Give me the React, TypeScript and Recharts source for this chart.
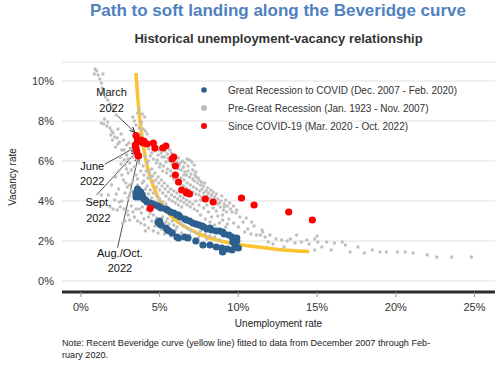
import React from "react";
import {
  CartesianGrid,
  ComposedChart,
  Legend,
  Line,
  ReferenceDot,
  ReferenceLine,
  Scatter,
  XAxis,
  YAxis,
} from "recharts";

const FONT = '"Liberation Sans", Arial, Helvetica, sans-serif';

// [unemployment rate, vacancy rate]
const preGreatRecession: [number, number][] = [
  // WWII streak
  [0.9, 10.6], [1.0, 10.5], [0.85, 10.35], [1.1, 10.3], [1.4, 10.35], [1.2, 10.1], [1.3, 9.9],
  [1.35, 9.65], [1.4, 9.4], [1.55, 9.2], [1.7, 9.05], [1.85, 8.85], [2.0, 8.65], [2.1, 8.5],
  [2.25, 8.3], [1.5, 8.1], [1.3, 7.9], [1.45, 7.85], [1.7, 7.95], [1.65, 7.75], [1.85, 7.65],
  [1.95, 7.5], [2.05, 7.4], [1.9, 7.3], [2.15, 7.2], [2.3, 7.15], [2.0, 7.05], [2.45, 6.95],
  [2.35, 6.85], [2.2, 6.7], [2.35, 7.6], [2.55, 7.35], [2.7, 7.05], [2.9, 6.8], [3.05, 6.9],
  [2.75, 6.55],
  // near top of curve
  [3.3, 8.2], [3.4, 8.0], [3.5, 7.8], [3.7, 7.65], [3.85, 7.95], [3.95, 7.6], [4.1, 7.5],
  [4.2, 7.35], [3.75, 7.3], [4.05, 8.2], [3.9, 8.35], [3.7, 8.6], [3.6, 8.4],
  // left of the 2022 cluster
  [2.6, 6.55], [2.9, 6.3], [3.0, 6.1], [2.8, 5.8], [2.4, 5.5], [3.0, 5.4], [3.2, 5.55],
  [3.4, 5.7], [2.7, 5.05], [3.3, 5.0], [3.6, 4.8], [1.95, 4.8], [1.75, 4.3], [2.15, 4.05],
  [2.6, 4.0], [3.0, 4.15], [3.85, 4.3], [1.3, 4.3], [3.0, 3.3], [2.8, 3.0], [3.4, 3.2],
  [3.85, 3.4], [4.05, 2.8], [2.5, 3.7], [2.65, 2.9], [3.1, 3.05], [1.85, 3.7], [2.05, 3.6],
  [2.3, 3.55], [3.2, 6.6], [3.1, 5.9], [3.3, 6.2], [2.5, 6.2], [2.9, 5.6], [3.5, 5.3],
  [3.6, 5.1], [3.45, 4.6], [3.2, 4.5], [2.95, 4.7], [2.2, 5.2], [3.95, 5.75], [4.15, 5.5],
  [4.25, 5.15], [3.7, 5.9], [3.55, 6.1], [3.75, 6.3], [2.75, 6.05], [2.55, 5.85], [2.6, 5.3],
  [2.85, 4.9], [3.1, 4.8], [3.35, 4.35], [3.1, 4.3], [2.8, 4.4], [2.4, 4.6], [2.25, 4.35],
  [2.45, 3.95], [2.75, 3.6], [3.2, 3.75], [3.5, 3.6], [3.3, 3.45], [2.95, 3.5], [3.6, 3.0],
  [3.8, 2.9],
  // main cloud
  [4.3, 6.6], [4.5, 6.4], [4.7, 6.5], [4.9, 6.3], [5.1, 6.4], [5.3, 6.2], [5.5, 6.35],
  [5.65, 6.55], [5.75, 6.4], [5.4, 5.95], [5.6, 6.0], [5.8, 5.85], [6.0, 5.75], [6.1, 5.95],
  [6.3, 5.9], [6.2, 5.6], [6.4, 5.55], [6.5, 5.7], [6.6, 5.45], [6.7, 5.3], [6.8, 5.5],
  [6.9, 5.2], [7.0, 5.35], [7.1, 5.1], [7.2, 5.0], [7.3, 5.2], [7.4, 4.9], [7.5, 5.05],
  [7.6, 4.8], [7.7, 4.6], [7.8, 4.75], [7.95, 4.5], [8.1, 4.4], [8.3, 4.3], [8.5, 4.2],
  [8.7, 4.1], [8.9, 4.0], [9.1, 3.85], [9.3, 3.75], [9.5, 3.6], [6.6, 5.9], [6.8, 5.75],
  [7.1, 5.55], [7.3, 5.45], [6.9, 6.05], [7.2, 5.8], [5.9, 6.3], [6.2, 6.15], [4.8, 5.9],
  [5.0, 5.7], [5.2, 5.5], [5.45, 5.4], [5.7, 5.25], [5.9, 5.1], [6.1, 5.0], [6.3, 4.85],
  [6.5, 4.75], [6.7, 4.65], [6.9, 4.55], [7.1, 4.45], [7.3, 4.35], [7.5, 4.3], [7.7, 4.2],
  [7.9, 4.1], [4.5, 5.6], [4.7, 5.4], [4.9, 5.2], [5.1, 5.05], [5.3, 4.9], [5.5, 4.75],
  [5.7, 4.6], [5.9, 4.5], [6.1, 4.4], [6.3, 4.25], [6.5, 4.15], [6.7, 4.05], [6.9, 3.95],
  [7.1, 3.85], [4.2, 5.9], [4.4, 5.2], [4.6, 4.95], [4.8, 4.7], [5.0, 4.55], [5.2, 4.4],
  [5.4, 4.25], [5.6, 4.1], [5.8, 4.0], [6.0, 3.9], [6.2, 3.8], [6.4, 3.7], [4.0, 5.0],
  [4.2, 4.75], [4.4, 4.55], [4.6, 4.4], [4.8, 4.25], [5.0, 4.1], [5.2, 3.95], [5.4, 3.85],
  [3.8, 5.5], [4.0, 5.3], [4.1, 6.2], [4.3, 6.0], [4.4, 6.25], [4.6, 6.1], [4.85, 6.05],
  [5.05, 5.85], [5.25, 5.75], [5.5, 5.6], [5.7, 5.5], [5.95, 5.4], [6.15, 5.3], [6.35, 5.15],
  [6.55, 5.05], [6.75, 4.9], [6.95, 4.8], [7.15, 4.7], [7.35, 4.6], [7.55, 4.5], [7.8, 4.4],
  [8.0, 4.25], [8.2, 4.15], [8.45, 4.05], [8.65, 3.85], [8.85, 3.7], [9.05, 3.55],
  [9.25, 3.45], [5.35, 6.5], [5.55, 6.15], [5.15, 6.2], [4.95, 6.55], [6.45, 6.0], [6.75, 6.1],
  [7.05, 5.95], [6.25, 5.8], [6.55, 5.3], [7.25, 5.3], [7.45, 5.15], [7.65, 4.95], [7.85, 4.9],
  [8.05, 4.65], [8.25, 4.55], [8.4, 4.45], [8.6, 4.35], [8.95, 4.25], [9.2, 4.05], [9.45, 3.9],
  [9.7, 3.75], [9.85, 3.4], [4.35, 5.45], [4.55, 5.25], [4.75, 5.05], [4.95, 4.9], [5.15, 4.75],
  [5.35, 4.6], [5.55, 4.45], [5.75, 4.3], [5.95, 4.2], [6.15, 4.1], [6.35, 4.0], [6.55, 3.9],
  [6.75, 3.8], [6.95, 3.7], [7.2, 3.6], [7.4, 3.5], [3.9, 4.9], [4.1, 4.6], [4.3, 4.35],
  [4.5, 4.15], [4.7, 4.0], [4.9, 3.9],
  // around the 2008-2019 lanes
  [4.2, 3.55], [4.4, 3.4], [4.6, 3.3], [4.8, 3.15], [5.0, 3.05], [5.2, 3.2], [4.5, 3.0],
  [4.3, 3.2], [5.4, 2.95], [5.6, 2.85], [5.9, 2.8], [6.1, 2.7], [5.5, 3.1], [5.8, 3.0],
  [6.3, 2.9], [6.5, 2.75], [6.8, 2.6], [7.0, 2.5], [7.3, 2.4], [6.0, 2.55], [4.7, 2.75],
  [5.1, 2.6], [7.6, 2.5], [7.9, 2.35], [8.2, 2.25], [8.5, 2.2], [3.7, 3.6], [3.9, 3.7],
  [4.0, 3.1], [4.1, 2.5], [4.3, 2.65], [4.6, 2.5], [4.9, 2.4], [5.3, 2.35], [5.7, 2.25],
  [6.4, 2.4], [6.9, 2.3], [7.5, 2.2], [8.0, 2.1], [8.8, 2.05],
  // right of the cloud
  [7.7, 4.2], [8.0, 3.8], [8.4, 3.9], [8.8, 3.9], [9.1, 3.7], [9.6, 3.45], [9.9, 3.55],
  [10.1, 3.2], [10.3, 2.95], [10.5, 3.15], [10.85, 2.95], [11.5, 2.55], [11.4, 2.3],
  [8.6, 3.5], [9.0, 3.3], [9.4, 3.1], [9.7, 2.9], [10.0, 2.7], [8.3, 3.2], [8.8, 2.9],
  [9.2, 2.7], [10.6, 2.6], [11.0, 2.75], [7.6, 3.3], [7.9, 3.1], [8.2, 2.95], [8.5, 2.8],
  [8.1, 3.45], [7.8, 3.65], [7.5, 3.8], [7.3, 4.0], [7.6, 4.05], [8.4, 3.65], [8.7, 3.25],
  [9.0, 3.05], [9.3, 2.85], [10.4, 2.45], [10.8, 2.35], [11.7, 2.2], [12.0, 2.3],
  // Depression tail
  [11.15, 2.3], [11.55, 2.45], [11.9, 1.95], [12.4, 2.1], [12.75, 2.05], [13.1, 2.0],
  [13.3, 2.1], [13.6, 1.9], [14.0, 1.95], [14.35, 2.05], [14.85, 2.1], [15.05, 1.95],
  [15.3, 1.7], [15.6, 1.95], [15.9, 1.55], [16.1, 1.9], [14.85, 1.55], [16.6, 1.95],
  [16.8, 1.8], [17.1, 1.45], [17.6, 1.7], [18.0, 1.4], [18.5, 1.55], [19.0, 1.45],
  [19.4, 1.45], [20.1, 1.45], [20.6, 1.45], [21.1, 1.4], [22.0, 1.3], [22.6, 1.2],
  [23.55, 1.2], [24.8, 1.2], [14.5, 1.85], [15.0, 2.25], [13.7, 2.3], [12.2, 1.85],
  [12.9, 1.7],
];

const greatRecessionToCovid: [number, number][] = [
  // 2008-2009
  [5.0, 3.0], [4.9, 2.95], [5.0, 2.85], [5.1, 2.8], [5.4, 2.65], [5.5, 2.55], [5.6, 2.5],
  [5.8, 2.4], [6.1, 2.2], [6.2, 2.15], [6.6, 2.2], [6.8, 2.15], [7.3, 2.0], [7.75, 1.8],
  [8.2, 1.8], [8.6, 1.7], [8.95, 1.65], [9.0, 1.45], [9.3, 1.6], [9.6, 1.55], [9.65, 1.95],
  [9.8, 1.75], [10.0, 1.65], [9.9, 2.15],
  // 2010-2019
  [9.9, 2.0], [9.7, 2.1], [9.6, 2.2], [9.4, 2.3], [9.1, 2.35], [9.0, 2.45], [8.8, 2.5],
  [8.6, 2.5], [8.3, 2.55], [8.2, 2.65], [8.0, 2.6], [7.8, 2.7], [7.7, 2.75], [7.5, 2.8],
  [7.3, 2.85], [7.1, 2.9], [6.9, 3.0], [6.7, 3.05], [6.6, 3.1], [6.3, 3.2], [6.2, 3.3],
  [6.1, 3.3], [5.9, 3.4], [5.7, 3.45], [5.5, 3.55], [5.4, 3.6], [5.1, 3.65], [5.0, 3.7],
  [4.9, 3.75], [4.7, 3.8], [4.5, 3.85], [4.4, 3.9], [4.2, 3.95], [4.1, 4.05], [4.0, 4.1],
  [3.9, 4.3], [3.8, 4.35], [3.7, 4.5], [3.6, 4.55], [3.5, 4.4], [3.6, 4.4], [3.5, 4.2],
  [3.7, 4.2], [3.8, 4.45], [3.6, 4.6],
];

const sinceCovid: [number, number][] = [
  [4.4, 3.63], [14.7, 3.05], [13.2, 3.45], [11.0, 3.8], [10.2, 4.15], [8.4, 3.95],
  [7.9, 4.1], [6.9, 4.35], [6.7, 4.4], [6.7, 4.45], [6.4, 4.55], [6.2, 4.95], [6.0, 5.3],
  [6.0, 5.75], [5.8, 6.1], [5.9, 6.2], [5.4, 6.75], [5.2, 6.65], [4.7, 6.65], [4.6, 6.9],
  [4.2, 6.85], [3.95, 6.9], [4.0, 7.0], [3.8, 7.05], [3.5, 7.27], [3.6, 7.05], [3.6, 6.95],
  [3.45, 6.8], [3.5, 6.65], [3.65, 6.25], [3.55, 6.47], [3.65, 6.27],
];

// fitted Beveridge curve
const curveU = [3.5, 3.6, 3.75, 3.9, 4.1, 4.4, 4.8, 5.3, 6, 7, 8, 9.5, 11, 12.5, 14.5];
const curveV = [10.4, 9.3, 8.0, 7.1, 6.15, 5.2, 4.35, 3.65, 3.05, 2.55, 2.2, 1.9, 1.72, 1.58, 1.47];

const xTicks = [0, 5, 10, 15, 20, 25];
const yTicks = [0, 2, 4, 6, 8, 10];

const legendItems = [
  { label: "Great Recession to COVID (Dec. 2007 - Feb. 2020)", color: "#2d5f8f", r: 2.8 },
  { label: "Pre-Great Recession (Jan. 1923 - Nov. 2007)", color: "#bdbdbd", r: 3 },
  { label: "Since COVID-19 (Mar. 2020 - Oct. 2022)", color: "#ff0000", r: 3 },
];

const annotations = [
  { lines: ["March", "2022"], u: 1.95, v: [9.43, 8.63], from: [2.27, 8.3], to: [3.43, 7.43] },
  { lines: ["June", "2022"], u: 0.72, v: [5.77, 5.02], from: [1.52, 5.84], to: [3.43, 6.67] },
  { lines: ["Sept.", "2022"], u: 1.11, v: [3.94, 3.13], from: [1.0, 4.3], to: [3.54, 6.47] },
  { lines: ["Aug./Oct.", "2022"], u: 2.48, v: [1.39, 0.64], from: [2.33, 1.67], to: [3.64, 6.22] },
];

const toPoints = (pts: [number, number][]) => pts.map(([u, v]) => ({ u, v }));
const grayData = toPoints(preGreatRecession);
const blueData = toPoints(greatRecessionToCovid);
const redData = toPoints(sinceCovid);
const curveData = curveU.map((u, i) => ({ u, v: curveV[i] }));

const dot = (r: number, fill: string) => (p: any) => (
  <circle cx={p.cx} cy={p.cy} r={r} fill={fill} />
);

function LegendBox() {
  return (
    <div style={{ fontFamily: FONT, fontSize: 10, color: "#333" }}>
      {legendItems.map((it) => (
        <div key={it.label} style={{ display: "flex", alignItems: "center", height: 18 }}>
          <svg width={30} height={18}>
            <circle cx={6} cy={9} r={it.r} fill={it.color} />
          </svg>
          <span>{it.label}</span>
        </div>
      ))}
    </div>
  );
}

export default function App() {
  return (
    <div
      style={{
        position: "absolute",
        left: 0,
        top: 0,
        width: 500,
        height: 365,
        background: "#fff",
        fontFamily: FONT,
        overflow: "hidden",
      }}
    >
      <ComposedChart
        width={500}
        height={365}
        margin={{ top: 62, right: 5, bottom: 33, left: 0 }}
      >
        <defs>
          <marker
            id="arrowHead"
            viewBox="0 0 10 10"
            refX="9"
            refY="5"
            markerWidth="6"
            markerHeight="6"
            markerUnits="userSpaceOnUse"
            orient="auto"
          >
            <path d="M0,1 L9,5 L0,9" fill="none" stroke="#222" strokeWidth={1.6} />
          </marker>
        </defs>
        <CartesianGrid vertical={false} stroke="#e2e2e2" />
        <XAxis
          type="number"
          dataKey="u"
          domain={[-1.2, 26.3]}
          ticks={xTicks}
          allowDataOverflow
          tickFormatter={(t) => `${t}%`}
          tick={{ fontSize: 11, fill: "#333" }}
          axisLine={{ stroke: "#2b2b2b", strokeWidth: 3 }}
          tickLine={{ stroke: "#999" }}
          tickSize={5}
          tickMargin={6}
          height={40}
          label={{ value: "Unemployment rate", position: "insideBottom", offset: 5, fontSize: 10, fill: "#222" }}
        />
        <YAxis
          type="number"
          dataKey="v"
          domain={[-0.55, 10.95]}
          ticks={yTicks}
          allowDataOverflow
          tickFormatter={(t) => `${t}%`}
          tick={{ fontSize: 11, fill: "#333" }}
          axisLine={false}
          tickLine={false}
          width={62}
          label={{
            value: "Vacancy rate",
            angle: -90,
            position: "insideLeft",
            offset: 12,
            fontSize: 10,
            fill: "#222",
            style: { textAnchor: "middle" },
          }}
        />
        <Legend
          layout="vertical"
          align="center"
          verticalAlign="middle"
          wrapperStyle={{ top: 81, left: 198, width: 300 }}
          content={() => <LegendBox />}
        />
        <Scatter data={grayData} dataKey="v" isAnimationActive={false} shape={dot(1.7, "#bfbfbf")} />
        <Scatter data={blueData} dataKey="v" isAnimationActive={false} shape={dot(3.6, "#2d5f8f")} />
        <Line
          data={curveData}
          dataKey="v"
          type="monotone"
          stroke="#fbc330"
          strokeWidth={3.5}
          dot={false}
          activeDot={false}
          isAnimationActive={false}
        />
        <Scatter data={redData} dataKey="v" isAnimationActive={false} shape={dot(3.6, "#ff0000")} />
        {annotations.map((a) => (
          <ReferenceLine
            key={a.lines[0]}
            segment={[
              { x: a.from[0], y: a.from[1] },
              { x: a.to[0], y: a.to[1] },
            ]}
            stroke="#222"
            strokeWidth={0.8}
            markerEnd="url(#arrowHead)"
          />
        ))}
        {annotations.flatMap((a) =>
          a.lines.map((line, i) => (
            <ReferenceDot
              key={`${a.lines[0]}-${i}`}
              x={a.u}
              y={a.v[i]}
              r={0}
              fill="none"
              stroke="none"
              label={{ value: line, position: "center", fontSize: 11, fill: "#111" }}
            />
          ))
        )}
      </ComposedChart>
      <div
        style={{
          position: "absolute",
          left: 0,
          top: 1,
          width: 556,
          textAlign: "center",
          fontSize: 17,
          lineHeight: "20px",
          fontWeight: "bold",
          color: "#4f81c0",
        }}
      >
        Path to soft landing along the Beveridge curve
      </div>
      <div
        style={{
          position: "absolute",
          left: 0,
          top: 31,
          width: 557,
          textAlign: "center",
          fontSize: 13,
          lineHeight: "16px",
          fontWeight: "bold",
          color: "#333",
        }}
      >
        Historical unemployment-vacancy relationship
      </div>
      <div
        style={{
          position: "absolute",
          left: 62,
          top: 337,
          width: 436,
          fontSize: 9.15,
          lineHeight: "12px",
          color: "#222",
        }}
      >
        Note: Recent Beveridge curve (yellow line) fitted to data from December 2007 through Feb-
        <br />
        ruary 2020.
      </div>
    </div>
  );
}
